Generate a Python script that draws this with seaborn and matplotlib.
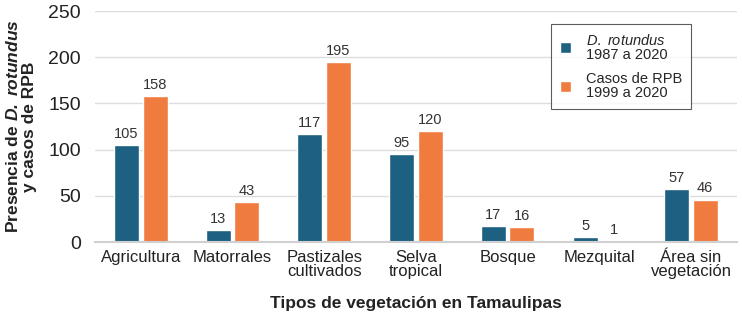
import pandas as pd
import matplotlib.pyplot as plt
import seaborn as sns

# Data
categories = ["Agricultura", "Matorrales", "Pastizales\ncultivados", "Selva\ntropical",
              "Bosque", "Mezquital", "Área sin\nvegetación"]
rotundus = [105, 13, 117, 95, 17, 5, 57]
rpb = [158, 43, 195, 120, 16, 1, 46]
series = ["$\\it{D.}$ $\\it{rotundus}$\n1987 a 2020", "Casos de RPB\n1999 a 2020"]

df = pd.DataFrame({
    "cat": categories * 2,
    "serie": [series[0]] * len(categories) + [series[1]] * len(categories),
    "valor": rotundus + rpb,
})

sns.set_style("white")
plt.rcParams["font.family"] = ["Liberation Sans", "DejaVu Sans"]
plt.rcParams["mathtext.fontset"] = "custom"
plt.rcParams["mathtext.rm"] = "Liberation Sans"
plt.rcParams["mathtext.it"] = "Liberation Sans:italic"
plt.rcParams["mathtext.bf"] = "Liberation Sans:bold"
plt.rcParams["mathtext.bfit"] = "Liberation Sans:italic:bold"

fig, ax = plt.subplots(figsize=(7.42, 3.16), dpi=100)
fig.subplots_adjust(left=0.128, right=0.993, bottom=0.234, top=0.965)

sns.barplot(data=df, x="cat", y="valor", hue="serie", palette=["#1d6081", "#f07b3f"],
            saturation=1, width=0.62, gap=0.12, ax=ax)

for bars in ax.containers:
    ax.bar_label(bars, fmt="%d", padding=3, fontsize=10.5, color="#333333")

ax.set_ylim(0, 250)
ax.set_xlim(-0.5, 6.5)
ax.set_yticks(range(0, 251, 50))
ax.yaxis.grid(True, color="#dddddd", linewidth=1)
ax.set_axisbelow(True)
for s in ["top", "right", "left"]:
    ax.spines[s].set_visible(False)
ax.spines["bottom"].set_color("#d0d0d0")
ax.spines["bottom"].set_linewidth(1.5)
ax.tick_params(axis="y", labelsize=14, length=0, pad=10, colors="#222222")
ax.tick_params(axis="x", labelsize=12, length=0, pad=6, colors="#222222")
for lbl in ax.get_xticklabels():
    lbl.set_linespacing(0.9)

ax.set_xlabel("Tipos de vegetación en Tamaulipas", fontsize=12.5, fontweight="bold",
              labelpad=12, color="#222222")
ax.set_ylabel("Presencia de $\\mathbfit{D.}$ $\\mathbfit{rotundus}$\ny casos de RPB", fontsize=12.5,
              fontweight="bold", labelpad=8, color="#222222", linespacing=1.15)

leg = ax.legend(loc="upper right", bbox_to_anchor=(0.94, 0.975), frameon=True, fancybox=False,
                fontsize=10.5, handlelength=0.8, handleheight=0.8, labelspacing=0.7,
                borderpad=0.6, handletextpad=1.0)
leg.get_frame().set_edgecolor("#333333")
leg.get_frame().set_linewidth(0.8)
for t in leg.get_texts():
    t.set_linespacing(1.0)

plt.savefig("out.png", dpi=100)
plt.close()
